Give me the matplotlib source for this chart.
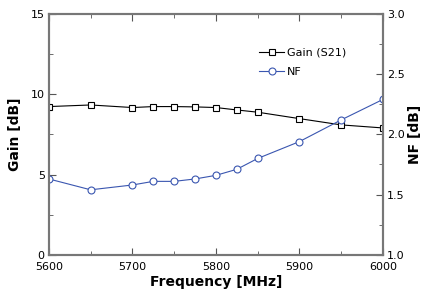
import matplotlib.pyplot as plt
from matplotlib.ticker import MultipleLocator

freq = [5600, 5650, 5700, 5725, 5750, 5775, 5800, 5825, 5850, 5900, 5950, 6000]
gain = [9.23, 9.33, 9.17, 9.23, 9.23, 9.21, 9.17, 9.02, 8.88, 8.48, 8.09, 7.90]
nf = [1.63, 1.54, 1.58, 1.61, 1.61, 1.63, 1.66, 1.71, 1.80, 1.94, 2.12, 2.29]

fig = plt.figure(figsize=(4.25, 2.95), dpi=100)
ax = fig.add_axes([0.115, 0.136, 0.786, 0.817])
ax2 = ax.twinx()

l1, = ax.plot(freq, gain, color='black', lw=0.8, marker='s', ms=4.5,
              mfc='white', mec='black', mew=0.8, label='Gain (S21)')
l2, = ax2.plot(freq, nf, color='#3a56b0', lw=0.8, marker='o', ms=5,
               mfc='white', mec='#3a56b0', mew=0.8, label='NF')

ax.set_xlim(5600, 6000)
ax.set_ylim(0, 15)
ax2.set_ylim(1.0, 3.0)
ax.xaxis.set_major_locator(MultipleLocator(100))
ax.xaxis.set_minor_locator(MultipleLocator(50))
ax.yaxis.set_major_locator(MultipleLocator(5))
ax.yaxis.set_minor_locator(MultipleLocator(2.5))
ax2.yaxis.set_major_locator(MultipleLocator(0.5))
ax2.yaxis.set_minor_locator(MultipleLocator(0.25))
ax2.yaxis.set_major_formatter(plt.FormatStrFormatter('%.1f'))

for a in (ax, ax2):
    for s in a.spines.values():
        s.set_color('#777777')
        s.set_linewidth(1.5)
    a.tick_params(which='both', direction='in', color='#555555', labelsize=8, pad=3)
    a.tick_params(which='major', length=5)
    a.tick_params(which='minor', length=3)
ax.tick_params(which='both', top=True)
ax.tick_params(axis='x', pad=5)

ax.set_xlabel('Frequency [MHz]', fontsize=10, fontweight='bold', labelpad=2)
ax.set_ylabel('Gain [dB]', fontsize=10, fontweight='bold', labelpad=6)
ax2.set_ylabel('NF [dB]', fontsize=10, fontweight='bold', labelpad=2)

ax.legend(handles=[l1, l2], loc='upper left', bbox_to_anchor=(0.6, 0.9),
          frameon=False, fontsize=8, handlelength=2.2, handletextpad=0.3,
          labelspacing=0.8)

fig.savefig('out.png', dpi=100)
